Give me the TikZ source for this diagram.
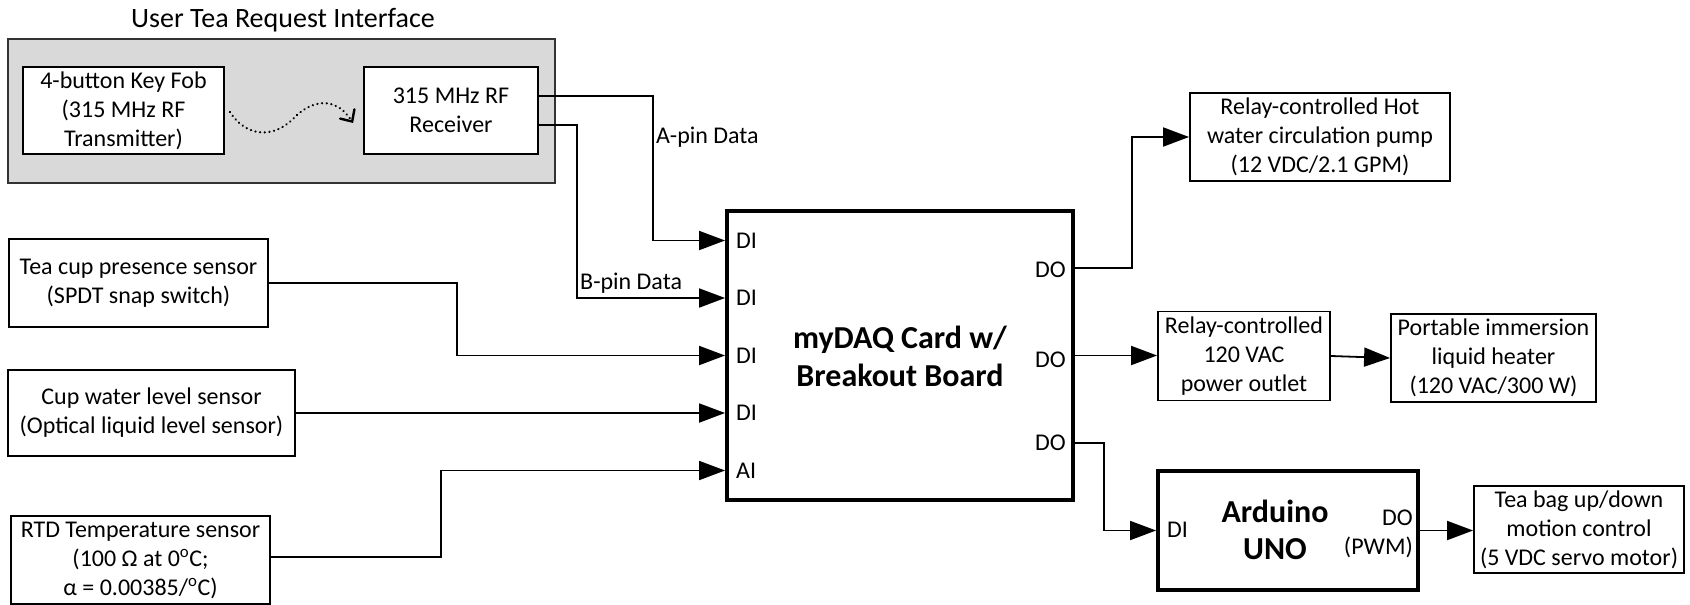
\documentclass[tikz,border=0pt]{standalone}
\usepackage{fontspec}
\setmainfont{Carlito}
\usetikzlibrary{arrows.meta}
\begin{document}
\begin{tikzpicture}[x=1pt,y=-1pt,
  box/.style={draw, line width=1.8pt, fill=white, inner sep=0pt, align=center, font=\fontsize{24}{29}\selectfont},
  thickbox/.style={draw, line width=3.8pt, fill=white, inner sep=0pt},
  wire/.style={line width=1.8pt, -{Triangle[length=26pt,width=19pt]}},
  lbl/.style={inner sep=0pt, font=\fontsize{24}{29}\selectfont},
  big/.style={inner sep=0pt, align=center, font=\bfseries\fontsize{32}{38}\selectfont},
  ]
\useasboundingbox (0,0) rectangle (1690,605);
% user interface group
\node[font=\fontsize{28}{34}\selectfont] (title) at (283,20) {User Tea Request Interface};
\node[draw=black!80, fill=gray!30, line width=1.8pt, inner sep=0pt, minimum width=547pt, minimum height=144pt] (ui) at (281.5,111) {};
\node[box, minimum width=201pt, minimum height=87pt] (kf) at (123.5,110.5) {4-button Key Fob\\(315 MHz RF\\Transmitter)};
\node[box, minimum width=174pt, minimum height=87pt] (rx) at (451,110.5) {315 MHz RF\\Receiver};
\draw[line width=2.4pt, line cap=round, dash pattern=on 0.1pt off 4.6pt, -{Straight Barb[length=9pt,width=17pt,line cap=round]}]
  ([xshift=5pt,yshift=-1.5pt]kf.east) .. controls (245,135) and (270,140) .. (292,120)
  .. controls (310,100) and (335,95) .. ([xshift=-10pt,yshift=-12.5pt]rx.west);
% sensors
\node[box, minimum width=259pt, minimum height=88pt] (tc) at (138.5,283) {Tea cup presence sensor\\(SPDT snap switch)};
\node[box, minimum width=287pt, minimum height=86pt] (wl) at (151.5,413) {Cup water level sensor\\(Optical liquid level sensor)};
\node[box, minimum width=259pt, minimum height=88pt] (rtd) at (140.5,560) {RTD Temperature sensor\\(100 Ω at 0\textsuperscript{o}C;\\α = 0.00385/\textsuperscript{o}C)};
% myDAQ
\node[thickbox, minimum width=346pt, minimum height=289pt] (daq) at (900,355.5) {};
\node[big] (daqt) at (900,356) {myDAQ Card w/\\Breakout Board};
\node[lbl, anchor=west] (di1) at (736,240.5) {DI};
\node[lbl, anchor=west] (di2) at (736,298) {DI};
\node[lbl, anchor=west] (di3) at (736,355.5) {DI};
\node[lbl, anchor=west] (di4) at (736,413) {DI};
\node[lbl, anchor=west] (ai) at (736,470.5) {AI};
\node[lbl, anchor=east] (do1) at (1066,270) {DO};
\node[lbl, anchor=east] (do2) at (1066,360) {DO};
\node[lbl, anchor=east] (do3) at (1066,443) {DO};
% outputs
\node[box, minimum width=260pt, minimum height=88pt] (pump) at (1320,137) {Relay-controlled Hot\\water circulation pump\\(12 VDC/2.1 GPM)};
\node[box, minimum width=172pt, minimum height=89pt] (relay) at (1244,356) {Relay-controlled\\120 VAC\\power outlet};
\node[box, minimum width=205pt, minimum height=88pt] (heater) at (1493.5,358) {Portable immersion\\liquid heater\\(120 VAC/300 W)};
\node[thickbox, minimum width=260pt, minimum height=119pt] (ard) at (1288,530.5) {};
\node[big, font=\bfseries\fontsize{32}{37}\selectfont] (ardt) at (1275,530) {Arduino\\UNO};
\node[lbl, anchor=west] (ardi) at (1167,530) {DI};
\node[lbl, anchor=east, align=right] (ardo) at (1413,534) {DO\\(PWM)};
\node[box, minimum width=210pt, minimum height=87pt] (tb) at (1579,529.5) {Tea bag up/down\\motion control\\(5 VDC servo motor)};
% wires
\draw[wire] ([yshift=14.5pt]rx.east) -- ++(114,0) |- ([yshift=115pt]daq.west);
\draw[wire] ([yshift=-14.5pt]rx.east) -- ++(38,0) |- ([yshift=57.5pt]daq.west);
\node[lbl, anchor=west] (apin) at (656,137) {A-pin Data};
\node[lbl, anchor=west] (bpin) at (580,283) {B-pin Data};
\draw[wire] (tc.east) -- ++(188,0) |- (daq.west);
\draw[wire] (wl.east) -- (wl.east -| daq.west);
\draw[wire] ([yshift=3pt]rtd.east) -- ++(170,0) |- ([yshift=-115pt]daq.west);
\draw[wire] ([yshift=87.5pt]daq.east) -- ++(57,0) |- (pump.west);
\draw[wire] (daq.east) -- (daq.east -| relay.west);
\draw[wire] (relay.east) -- (heater.west);
\draw[wire] ([yshift=-87.5pt]daq.east) -- ++(29,0) |- (ard.west);
\draw[wire] (ard.east) -- (ard.east -| tb.west);
\end{tikzpicture}
\end{document}
